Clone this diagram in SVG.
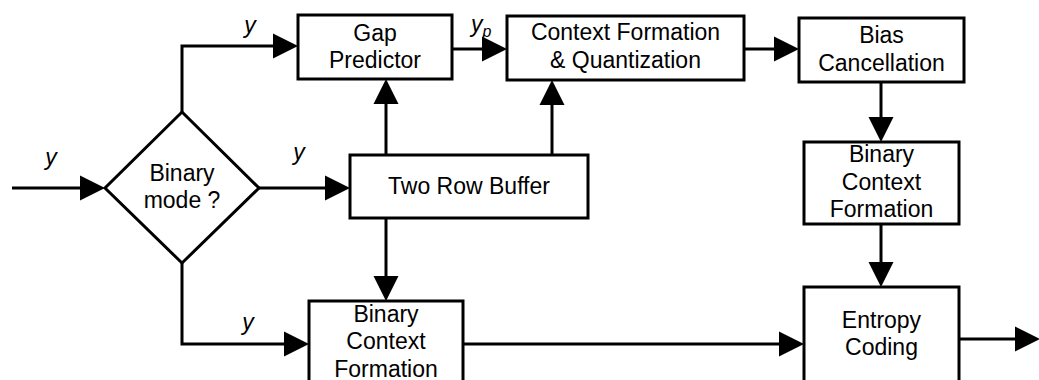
<svg xmlns="http://www.w3.org/2000/svg" width="1039" height="380" viewBox="0 0 1039 380">
<style>
.box{fill:#fff;stroke:#000;stroke-width:3}
.t{font-family:"Liberation Sans",Arial,sans-serif;font-size:23px;fill:#000;text-anchor:middle}
.lbl{font-family:"Liberation Sans",Arial,sans-serif;font-size:23px;font-style:italic;fill:#000;text-anchor:middle}
.c{fill:none;stroke:#000;stroke-width:3}
</style>
<defs>
<marker id="ah" markerUnits="userSpaceOnUse" markerWidth="25" markerHeight="25" refX="14" refY="12.5" orient="auto" overflow="visible">
<path d="M0,0 L25,12.5 L0,25 z" fill="#000"/>
</marker>
</defs>
<rect width="1039" height="380" fill="#fff"/>
<g id="connectors">
<path class="c" d="M12,188 H94" marker-end="url(#ah)"/>
<path class="c" d="M182,112 V46 H287" marker-end="url(#ah)"/>
<path class="c" d="M259,188 H339" marker-end="url(#ah)"/>
<path class="c" d="M182,263 V344 H298" marker-end="url(#ah)"/>
<path class="c" d="M386,155 V90" marker-end="url(#ah)"/>
<path class="c" d="M552,155 V91" marker-end="url(#ah)"/>
<path class="c" d="M386,218 V290" marker-end="url(#ah)"/>
<path class="c" d="M452,49 H496" marker-end="url(#ah)"/>
<path class="c" d="M744,49 H788" marker-end="url(#ah)"/>
<path class="c" d="M881,82 V131" marker-end="url(#ah)"/>
<path class="c" d="M881,224 V276" marker-end="url(#ah)"/>
<path class="c" d="M463,344 H793" marker-end="url(#ah)"/>
<path class="c" d="M959,339 H1029" marker-end="url(#ah)"/>
<text class="lbl" x="51" y="165">y</text>
<text class="lbl" x="299" y="160">y</text>
<text class="lbl" x="250" y="33">y</text>
<text class="lbl" x="248" y="330">y</text>
<text class="lbl" x="471" y="32" style="text-anchor:start">y<tspan font-size="16" dy="5">p</tspan></text>
</g>
<g id="decision">
<polygon class="box" points="182,112 259,188 182,263 105,188"/>
<text class="t" x="182" y="181">Binary</text>
<text class="t" x="182" y="208">mode ?</text>
</g>
<g id="gap">
<rect class="box" x="298" y="15" width="154" height="64"/>
<text class="t" x="375" y="41">Gap</text>
<text class="t" x="375" y="68">Predictor</text>
</g>
<g id="context">
<rect class="box" x="507" y="16" width="237" height="64"/>
<text class="t" x="625.5" y="40">Context Formation</text>
<text class="t" x="625.5" y="68">&amp; Quantization</text>
</g>
<g id="bias">
<rect class="box" x="799" y="18" width="165" height="64"/>
<text class="t" x="881.5" y="43">Bias</text>
<text class="t" x="881.5" y="71">Cancellation</text>
</g>
<g id="buffer">
<rect class="box" x="350" y="155" width="238" height="63"/>
<text class="t" x="469" y="194">Two Row Buffer</text>
</g>
<g id="bcf-right">
<rect class="box" x="804" y="142" width="155" height="82"/>
<text class="t" x="881.5" y="162">Binary</text>
<text class="t" x="881.5" y="190">Context</text>
<text class="t" x="881.5" y="217">Formation</text>
</g>
<g id="bcf-bottom">
<rect class="box" x="309" y="301" width="154" height="90"/>
<text class="t" x="386" y="322">Binary</text>
<text class="t" x="386" y="349">Context</text>
<text class="t" x="386" y="377">Formation</text>
</g>
<g id="entropy">
<rect class="box" x="804" y="287" width="155" height="104"/>
<text class="t" x="881.5" y="328">Entropy</text>
<text class="t" x="881.5" y="355">Coding</text>
</g>
</svg>
